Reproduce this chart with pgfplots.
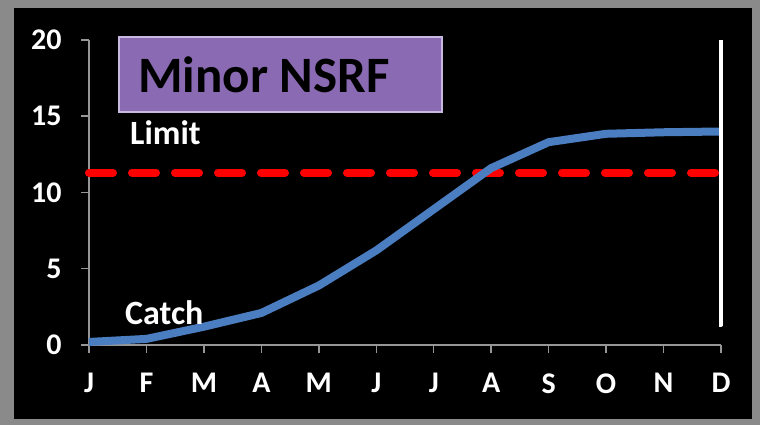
\documentclass[border=0pt]{standalone}
\usepackage{pgfplots}
\pgfplotsset{compat=1.18}
\usepackage{fontspec}
\setmainfont{Carlito}
\definecolor{bggray}{RGB}{138,138,138}
\definecolor{axgray}{RGB}{150,150,150}
\definecolor{catchblue}{RGB}{74,126,193}
\definecolor{boxpurple}{RGB}{139,106,180}
\definecolor{boxedge}{RGB}{200,185,225}
\begin{document}
\begin{tikzpicture}
\fill[bggray] (0,0) rectangle (760pt,425pt);
\fill[black] (14pt,6pt) rectangle (752pt,417pt);
\begin{axis}[
  at={(89pt,80pt)}, anchor=south west,
  scale only axis, width=632pt, height=305pt,
  xmin=0, xmax=11, ymin=0, ymax=20,
  clip=false,
  axis x line*=bottom, axis y line*=left,
  axis line style={axgray, line width=1.5pt},
  tick style={axgray, line width=1.5pt},
  tick align=outside,
  major tick length=8pt,
  xtick={0,...,11},
  xticklabels={J,F,M,A,M,J,J,A,S,O,N,D},
  ytick={0,5,10,15,20},
  /pgf/number format/assume math mode=true,
  tick label style={white, font=\fontsize{30}{30}\selectfont\bfseries},
  xticklabel style={yshift=-17pt},
  yticklabel style={xshift=-16pt},
]
\addplot[red, line width=8pt, dash pattern=on 24pt off 19pt, line cap=round] coordinates {(0,11.3) (11,11.3)};
\addplot[catchblue, line width=8pt, line join=round] coordinates {
(0,0.2) (1,0.4) (2,1.2) (3,2.1) (4,3.9) (5,6.2) (6,8.9) (7,11.6) (8,13.3) (9,13.85) (10,13.95) (11,14.0)};
\addplot[white, line width=3.5pt, line join=round] coordinates {(11,20) (11,1.3) (10.96,1.3)};
\end{axis}
\draw[boxedge, line width=1.5pt, fill=boxpurple] (119pt,313pt) rectangle (442pt,388pt);
\node[anchor=west, inner sep=0pt, font=\fontsize{51}{51}\selectfont\bfseries, text=black] at (138pt,350pt) {Minor NSRF};
\node[anchor=west, inner sep=0pt, font=\fontsize{34}{34}\selectfont\bfseries, text=white] at (130pt,292pt) {Limit};
\node[anchor=west, inner sep=0pt, font=\fontsize{34}{34}\selectfont\bfseries, text=white] at (125pt,112pt) {Catch};
\end{tikzpicture}
\end{document}
